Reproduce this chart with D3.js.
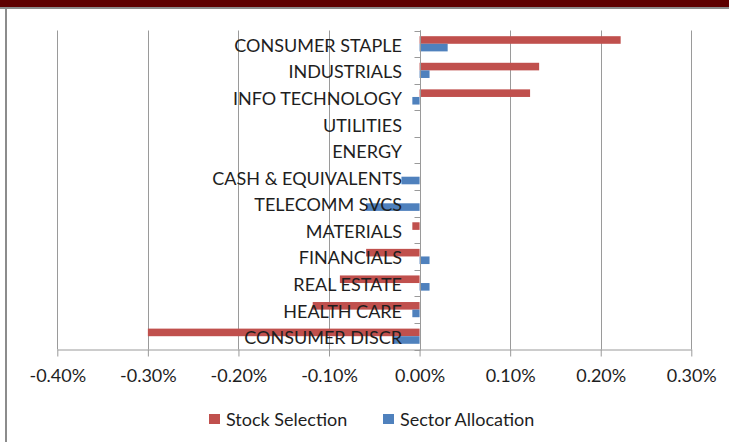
<!DOCTYPE html>
<html>
<head>
<meta charset="utf-8">
<script src="https://cdn.jsdelivr.net/npm/d3@7"></script>
<style>
  html, body { margin: 0; padding: 0; background: #fff; }
  svg { display: block; }
  text { font-family: Lato, "Open Sans", sans-serif; fill: #1e1e1e; }
</style>
</head>
<body>
<svg id="chart" width="729" height="442"></svg>
<script>
// Attribution by sector, in percentage points
const categories = [
  "CONSUMER STAPLE", "INDUSTRIALS", "INFO TECHNOLOGY", "UTILITIES", "ENERGY",
  "CASH & EQUIVALENTS", "TELECOMM SVCS", "MATERIALS", "FINANCIALS",
  "REAL ESTATE", "HEALTH CARE", "CONSUMER DISCR"
];
const stockSelection   = [0.222, 0.132, 0.122, 0, 0, 0, 0, -0.008, -0.059, -0.088, -0.118, -0.300];
const sectorAllocation = [0.031, 0.011, -0.008, 0, 0, -0.020, -0.059, 0, 0.011, 0.011, -0.008, -0.029];
const seriesNames = ["Stock Selection", "Sector Allocation"];
const seriesColors = ["#C0504D", "#4F81BD"];
const xTicks = [-0.4, -0.3, -0.2, -0.1, 0, 0.1, 0.2, 0.3];

const svg = d3.select("#chart");

// Frame: dark band along the top, thin grey rules top and left
svg.append("rect").attr("x", 0).attr("y", 0).attr("width", 729).attr("height", 7).attr("fill", "#5e0000");
svg.append("rect").attr("x", 0).attr("y", 7).attr("width", 729).attr("height", 2).attr("fill", "#8c8c8c");
svg.append("rect").attr("x", 5).attr("y", 7).attr("width", 2).attr("height", 435).attr("fill", "#8c8c8c");

const plot = { left: 57.3, right: 691.3, top: 30.5, bottom: 349.5 };

const x = d3.scaleLinear().domain([-0.4, 0.3]).range([plot.left, plot.right]);
const y = d3.scaleBand().domain(categories).range([plot.top, plot.bottom]);
// Two bars per category with a 150% gap between groups
const barW = y.bandwidth() / 3.5;
const sub = d3.scaleBand().domain(seriesNames)
  .range([0.75 * barW, 0.75 * barW + 2 * barW]);

const gridColor = "#9a9a9a";

// Vertical gridlines
svg.append("g").selectAll("line").data(xTicks).join("line")
  .attr("x1", d => Math.round(x(d)) + 0.5).attr("x2", d => Math.round(x(d)) + 0.5)
  .attr("y1", plot.top).attr("y2", plot.bottom)
  .attr("stroke", gridColor).attr("stroke-width", 1);

// Bars
const rows = categories.map((c, i) => ({
  cat: c,
  vals: [stockSelection[i], sectorAllocation[i]]
}));
const groups = svg.append("g").selectAll("g").data(rows).join("g")
  .attr("transform", d => `translate(0,${y(d.cat)})`);
groups.selectAll("rect")
  .data(d => d.vals.map((v, j) => ({ v, name: seriesNames[j], color: seriesColors[j] })))
  .join("rect")
  .attr("x", d => Math.min(x(0), x(d.v)))
  .attr("width", d => Math.abs(x(d.v) - x(0)))
  .attr("y", d => sub(d.name))
  .attr("height", sub.bandwidth())
  .attr("fill", d => d.color);

// Value axis along the bottom (plain hyphen for negatives)
const pct = d3.format(".2f");
const xAxis = d3.axisBottom(x).tickValues(xTicks)
  .tickFormat(d => pct(d).replace("\u2212", "-") + "%")
  .tickSizeInner(7).tickSizeOuter(0).tickPadding(13);
const gx = svg.append("g").attr("transform", `translate(0,${plot.bottom})`).call(xAxis);
gx.select(".domain").attr("stroke", gridColor);
gx.selectAll(".tick line").attr("stroke", gridColor);
gx.selectAll(".tick text").attr("font-size", 18).attr("fill", "#1e1e1e")
  .style("font-family", "Lato, sans-serif");

// Category axis at zero, ticks at band boundaries, labels to the left
const zx = Math.round(x(0)) + 0.5;
svg.append("line").attr("x1", zx).attr("x2", zx)
  .attr("y1", plot.top).attr("y2", plot.bottom).attr("stroke", gridColor);
const bounds = categories.map(c => y(c)).concat([plot.bottom]);
svg.append("g").selectAll("line").data(bounds).join("line")
  .attr("x1", zx - 6).attr("x2", zx)
  .attr("y1", d => Math.round(d) + 0.5).attr("y2", d => Math.round(d) + 0.5)
  .attr("stroke", gridColor);
svg.append("g").selectAll("text").data(categories).join("text")
  .attr("x", 402)
  .attr("y", d => y(d) + y.bandwidth() / 2 + 1)
  .attr("text-anchor", "end")
  .attr("dominant-baseline", "central")
  .attr("font-size", 18)
  .text(d => d);

// Legend
const legendItems = [
  { name: seriesNames[0], color: seriesColors[0], x: 209 },
  { name: seriesNames[1], color: seriesColors[1], x: 383 }
];
const lg = svg.append("g").selectAll("g").data(legendItems).join("g")
  .attr("transform", d => `translate(${d.x},414)`);
lg.append("rect").attr("width", 11).attr("height", 10).attr("fill", d => d.color);
lg.append("text").attr("x", 17).attr("y", 5)
  .attr("dominant-baseline", "central").attr("font-size", 18)
  .text(d => d.name);
</script>
</body>
</html>
